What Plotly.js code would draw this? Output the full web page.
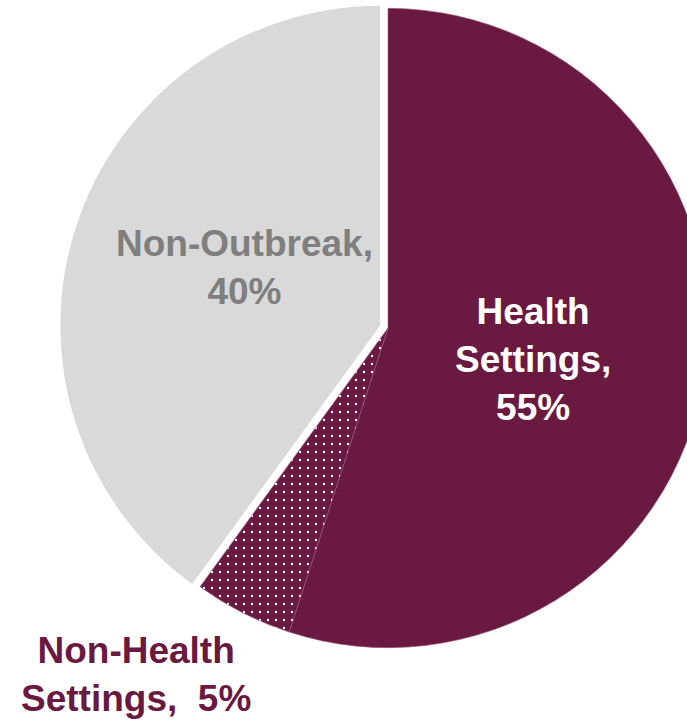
<!DOCTYPE html>
<html>
<head>
<meta charset="utf-8">
<script src="https://cdn.plot.ly/plotly-3.0.1.min.js"></script>
<style>
  html, body { margin: 0; padding: 0; overflow: hidden; background: #ffffff; }
  #chart { width: 720px; height: 722px; }
</style>
</head>
<body>
<div id="chart"></div>
<script>
// ---- data ----
var categories = ['Health Settings', 'Non-Health Settings', 'Non-Outbreak'];
var values = [55, 5, 40];
var labelNames = ['Health<br>Settings,', 'Non-Health<br>Settings,', 'Non-Outbreak,'];
var labelJoin = ['<br>', '  ', '<br>'];

// ---- styling ----
var MAROON = '#6A1941';
var GRAY = '#D9D9D9';
var sliceColors = [MAROON, MAROON, GRAY];
var textColors = ['#FFFFFF', MAROON, '#7F7F7F'];

// plot area geometry (pixels)
var W = 720, H = 722;
var L = 60, T = 0, S = 656;   // square pie domain
function px(X) { return (X - L) / S; }
function py(Y) { return 1 - (Y - T) / S; }

var labelPos = [[533, 359], [136, 674], [245, 268]];

var trace = {
  type: 'pie',
  labels: categories,
  values: values,
  sort: false,
  direction: 'clockwise',
  rotation: 0,
  pull: [0, 0, 0.026],
  textinfo: 'none',
  hoverinfo: 'label+percent',
  marker: {
    colors: sliceColors,
    line: { color: ['#9A5A78', '#9A5A78', 'rgba(0,0,0,0)'], width: [0.6, 0.6, 0] },
    pattern: {
      shape: ['', '.', ''],
      fgcolor: ['#FFFFFF', '#FFFFFF', '#FFFFFF'],
      bgcolor: sliceColors,
      size: 8,
      solidity: 0.07,
      fillmode: 'replace'
    }
  },
  showlegend: false
};

var annotations = categories.map(function (c, i) {
  return {
    xref: 'paper', yref: 'paper',
    x: px(labelPos[i][0]), y: py(labelPos[i][1]),
    xanchor: 'center', yanchor: 'middle',
    showarrow: false,
    align: 'center',
    text: labelNames[i] + labelJoin[i] + values[i] + '%',
    font: { family: 'Liberation Sans, Arial, sans-serif', size: 37, color: textColors[i], weight: 'bold' }
  };
});

var layout = {
  width: W, height: H,
  margin: { l: L, r: W - L - S, t: T, b: H - T - S, pad: 0 },
  paper_bgcolor: '#FFFFFF',
  plot_bgcolor: '#FFFFFF',
  showlegend: false,
  annotations: annotations
};

Plotly.newPlot('chart', [trace], layout, { displayModeBar: false, staticPlot: true });
</script>
</body>
</html>
